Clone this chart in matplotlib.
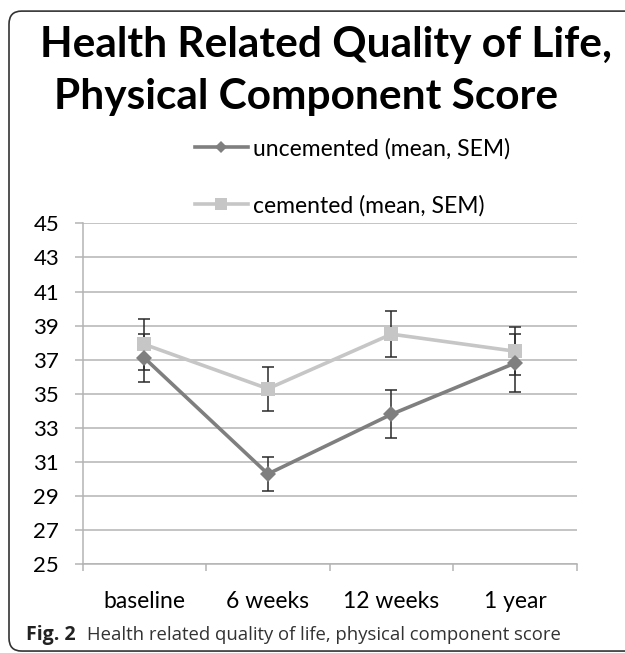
import matplotlib.pyplot as plt
from matplotlib.lines import Line2D
from matplotlib.patches import FancyBboxPatch

categories = ["baseline", "6 weeks", "12 weeks", "1 year"]
uncemented = [37.1, 30.3, 33.8, 36.8]
uncemented_sem = [1.4, 1.0, 1.4, 1.7]
cemented = [37.9, 35.3, 38.5, 37.5]
cemented_sem = [1.5, 1.3, 1.35, 1.4]
yticks = [25, 27, 29, 31, 33, 35, 37, 39, 41, 43, 45]

dark = "#7f7f7f"
light = "#c6c6c6"
grid = "#b4b4b4"

plt.rcParams['font.family'] = ['Lato', 'DejaVu Sans']

fig = plt.figure(figsize=(6.25, 6.53), dpi=100)
ax = fig.add_axes([0.1323, 0.1358, 0.7904, 0.5222])

x = list(range(len(categories)))

ax.errorbar(x, cemented, yerr=cemented_sem, fmt='none', ecolor='#2a2a2a',
            elinewidth=1.1, capsize=4.5, capthick=1.1, zorder=3)
ax.errorbar(x, uncemented, yerr=uncemented_sem, fmt='none', ecolor='#2a2a2a',
            elinewidth=1.1, capsize=4.5, capthick=1.1, zorder=3)
ax.plot(x, cemented, color=light, lw=2.6, marker='s', markersize=10,
        markeredgewidth=0, zorder=4)
ax.plot(x, uncemented, color=dark, lw=2.6, marker='D', markersize=8.5,
        markeredgewidth=0, zorder=5)

ax.set_xlim(-0.5, 3.5)
ax.set_ylim(25, 45)
ax.set_yticks(yticks)
ax.set_yticklabels([str(v) for v in yticks], fontsize=16)
ax.yaxis.grid(True, color=grid, lw=1.1)
ax.set_axisbelow(True)
ax.tick_params(axis='y', length=6, color=grid, width=1.1, pad=11)

ax.set_xticks(x)
ax.set_xticklabels(categories, fontsize=16.5)
ax.set_xticks([-0.5, 0.5, 1.5, 2.5, 3.5], minor=True)
ax.tick_params(axis='x', which='major', length=0, pad=19)
ax.tick_params(axis='x', which='minor', length=5, color=grid, width=1.1)

for s in ['top', 'right']:
    ax.spines[s].set_visible(False)
ax.spines['left'].set_color(grid)
ax.spines['left'].set_linewidth(1.1)
ax.spines['bottom'].set_color(grid)
ax.spines['bottom'].set_linewidth(1.1)

# title
fig.text(0.522, 0.931, "Health Related Quality of Life,", ha='center', va='center',
         fontsize=30.5, fontweight='bold')
fig.text(0.490, 0.851, "Physical Component Score", ha='center', va='center',
         fontsize=30.5, fontweight='bold')

# legend
handles = [Line2D([], [], color=dark, lw=2.6, marker='D', markersize=6, markeredgewidth=0),
           Line2D([], [], color=light, lw=2.6, marker='s', markersize=8, markeredgewidth=0)]
fig.legend(handles, ["uncemented (mean, SEM)", "cemented (mean, SEM)"],
           loc='upper left', bbox_to_anchor=(0.312, 0.789), frameon=False,
           fontsize=16.5, handlelength=2.3, handletextpad=0.25, labelspacing=1.55,
           borderpad=0, borderaxespad=0)

# caption
fig_lbl = fig.text(0.042, 0.027, "Fig. 2", fontsize=14, fontweight='bold', va='center',
                   family=['Open Sans', 'DejaVu Sans'], color='#222222')
fig.text(0.139, 0.027, "Health related quality of life, physical component score",
         fontsize=13.3, va='center', family=['Open Sans', 'DejaVu Sans'], color='#333333')

frame = FancyBboxPatch((0.0144, 0.003), 1.2, 0.98, transform=fig.transFigure,
                       boxstyle="round,pad=0,rounding_size=0.02",
                       fill=False, edgecolor='#333333', lw=1.2, clip_on=False)
fig.patches.append(frame)

fig.savefig("out.png", dpi=100)
